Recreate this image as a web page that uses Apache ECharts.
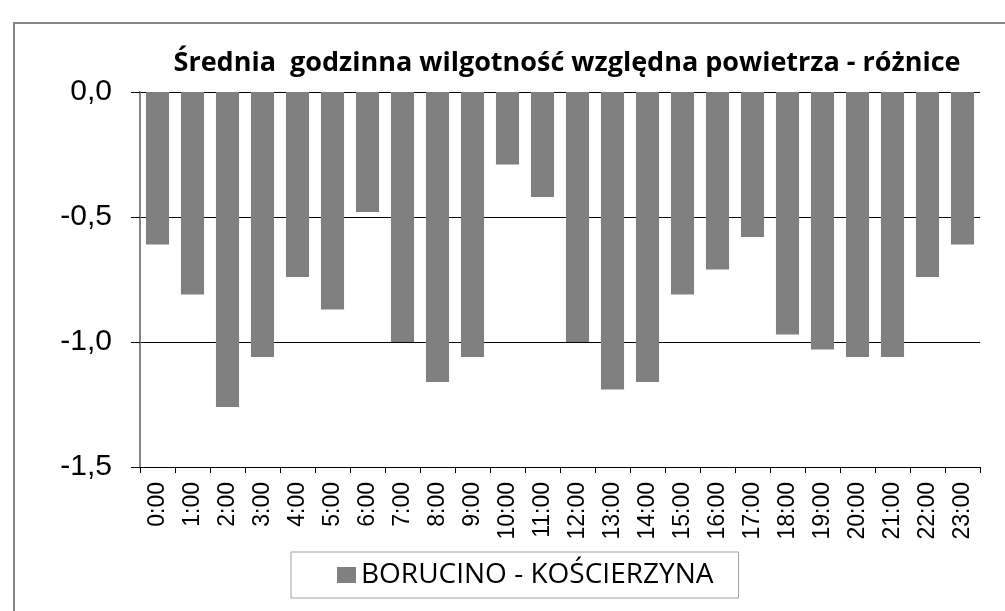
<!DOCTYPE html>
<html>
<head>
<meta charset="utf-8">
<script src="https://cdn.jsdelivr.net/npm/echarts@6/dist/echarts.min.js"></script>
<style>
  html, body { margin: 0; padding: 0; background: #fff; }
  #chart { width: 1005px; height: 611px; }
</style>
</head>
<body>
<div id="chart"></div>
<script>
// godziny
var hours = ['0:00', '1:00', '2:00', '3:00', '4:00', '5:00', '6:00', '7:00', '8:00', '9:00', '10:00', '11:00',
  '12:00', '13:00', '14:00', '15:00', '16:00', '17:00', '18:00', '19:00', '20:00', '21:00', '22:00', '23:00'];
// różnice wilgotności (BORUCINO - KOŚCIERZYNA)
var diffs = [-0.61, -0.81, -1.26, -1.06, -0.74, -0.87, -0.48, -1.0, -1.16, -1.06, -0.29, -0.42,
  -1.0, -1.19, -1.16, -0.81, -0.71, -0.58, -0.97, -1.03, -1.06, -1.06, -0.74, -0.61];
var seriesName = 'BORUCINO - KOŚCIERZYNA';
var titleText = 'Średnia  godzinna wilgotność względna powietrza - różnice';

var myChart = echarts.init(document.getElementById('chart'));
var option = {
  backgroundColor: '#ffffff',
  animation: false,
  title: {
    text: titleText,
    left: 562,
    textAlign: 'center',
    top: 45,
    textStyle: {
      fontFamily: 'Open Sans',
      fontWeight: 'bold',
      fontSize: 27,
      color: '#000'
    }
  },
  graphic: [{
    // ramka wykresu
    type: 'rect',
    shape: { x: 14, y: 23, width: 1100, height: 700 },
    style: { fill: 'none', stroke: '#868686', lineWidth: 2 },
    silent: true
  }],
  legend: {
    left: 291,
    top: 552,
    padding: [9, 25, 9, 46],
    borderColor: '#a0a0a0',
    borderWidth: 1,
    itemWidth: 19,
    itemHeight: 16,
    icon: 'rect',
    textStyle: {
      fontFamily: 'Open Sans',
      fontSize: 28,
      color: '#000'
    },
    data: [seriesName]
  },
  grid: {
    left: 140,
    right: 25,
    top: 92,
    bottom: 144
  },
  xAxis: {
    type: 'category',
    data: hours,
    axisLine: {
      onZero: false,
      lineStyle: { color: '#000', width: 1 }
    },
    axisTick: {
      show: true,
      alignWithLabel: false,
      length: 6,
      lineStyle: { color: '#000' }
    },
    axisLabel: {
      interval: 0,
      rotate: 90,
      margin: 15,
      fontFamily: 'Liberation Sans',
      fontSize: 23,
      color: '#000'
    },
    splitLine: { show: false }
  },
  yAxis: {
    type: 'value',
    min: -1.5,
    max: 0,
    interval: 0.5,
    axisLine: {
      show: true,
      lineStyle: { color: '#868686', width: 2 }
    },
    axisTick: {
      show: true,
      length: 9,
      lineStyle: { color: '#000' }
    },
    axisLabel: {
      margin: 28,
      fontFamily: 'Liberation Sans',
      fontSize: 30,
      color: '#000',
      formatter: function (v) {
        return v.toFixed(1).replace('.', ',');
      }
    },
    splitLine: {
      show: true,
      lineStyle: { color: '#000', width: 1 }
    }
  },
  series: [{
    name: seriesName,
    type: 'bar',
    data: diffs,
    barCategoryGap: '34%',
    itemStyle: { color: '#808080' }
  }]
};
option && myChart.setOption(option);
</script>
</body>
</html>
